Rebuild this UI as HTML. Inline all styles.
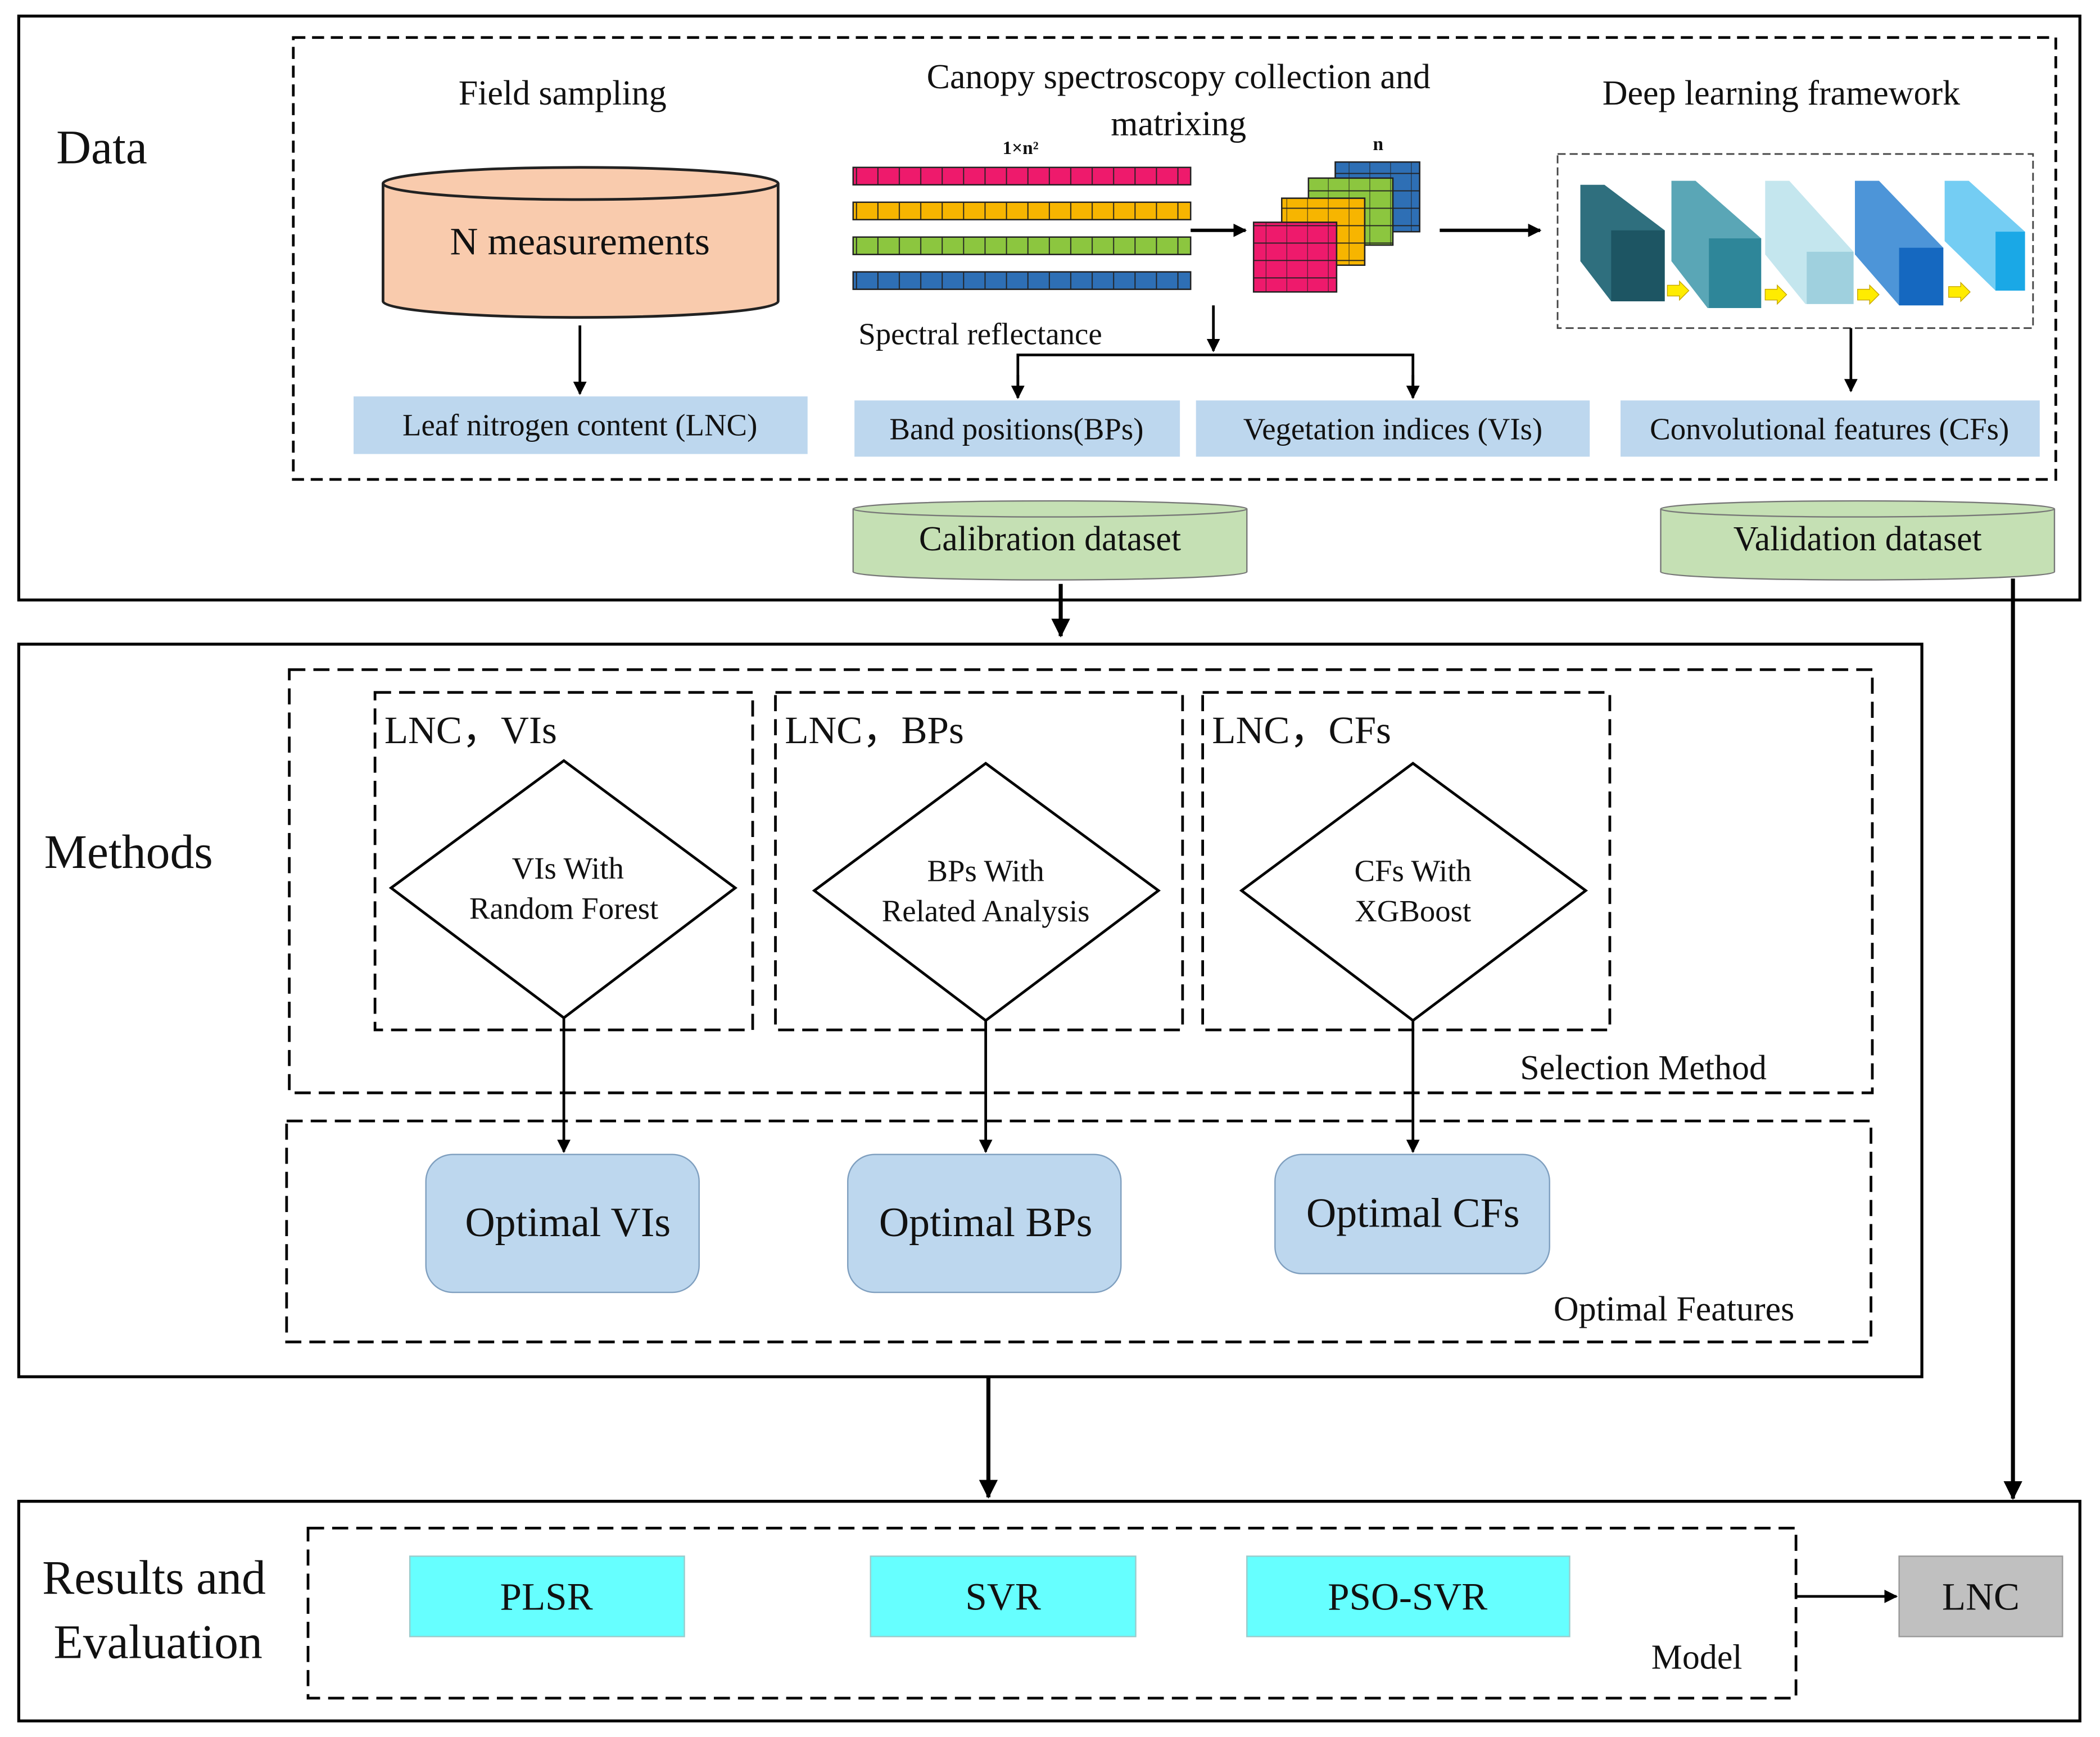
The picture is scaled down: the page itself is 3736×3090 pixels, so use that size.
<!DOCTYPE html>
<html><head><meta charset="utf-8"><style>html,body{margin:0;padding:0;background:#fff}svg{display:block}text{font-family:"Liberation Serif",serif;fill:#111}</style></head>
<body>
<svg width="3736" height="3090" viewBox="0 0 1568 1297" preserveAspectRatio="none" xmlns="http://www.w3.org/2000/svg">
<defs>
<marker id="ah" markerWidth="10" markerHeight="10" refX="9" refY="5" orient="auto" markerUnits="userSpaceOnUse"><path d="M0,0 L10,5 L0,10 z" fill="#000"/></marker>
<marker id="ahb" markerWidth="14" markerHeight="14" refX="13" refY="7" orient="auto" markerUnits="userSpaceOnUse"><path d="M0,0 L14,7 L0,14 z" fill="#000"/></marker>
<pattern id="cells" width="16" height="20" patternUnits="userSpaceOnUse"><line x1="15.5" y1="0" x2="15.5" y2="20" stroke="#222" stroke-width="0.8"/></pattern>
<pattern id="grid" width="15.5" height="13" patternUnits="userSpaceOnUse"><path d="M15.5,0 V13 M0,12.5 H15.5" stroke="#222" stroke-width="0.8" fill="none"/></pattern>
</defs>
<g fill="none" stroke="#000">
<rect x="14" y="12" width="1539" height="436" stroke-width="2.2"/>
<rect x="219" y="28" width="1316" height="330" stroke-width="2" stroke-dasharray="9,5"/>
<rect x="14" y="481" width="1421" height="547" stroke-width="2.2"/>
<rect x="216" y="500" width="1182" height="316" stroke-width="2" stroke-dasharray="12,6"/>
<rect x="280" y="517" width="282" height="252" stroke-width="2" stroke-dasharray="12,6"/>
<rect x="579" y="517" width="304" height="252" stroke-width="2" stroke-dasharray="12,6"/>
<rect x="898" y="517" width="304" height="252" stroke-width="2" stroke-dasharray="12,6"/>
<rect x="214" y="837" width="1183" height="165" stroke-width="2" stroke-dasharray="12,6"/>
<rect x="14" y="1121" width="1539" height="164" stroke-width="2.2"/>
<rect x="230" y="1141" width="1111" height="127" stroke-width="2" stroke-dasharray="12,6"/>
<rect x="1163" y="115" width="355" height="130" stroke-width="1.2" stroke-dasharray="6,3" stroke="#444"/>
</g>
<text x="42" y="122" font-size="36">Data</text>
<text x="420" y="78" font-size="26" text-anchor="middle">Field sampling</text>
<text x="880" y="66" font-size="26" text-anchor="middle">Canopy spectroscopy collection and</text>
<text x="880" y="101" font-size="26" text-anchor="middle">matrixing</text>
<text x="1330" y="78" font-size="26" text-anchor="middle">Deep learning framework</text>
<!-- cylinder -->
<path d="M286,137 V225 A147.5,12 0 0 0 581,225 V137" fill="#f9cbad" stroke="#222" stroke-width="2"/>
<ellipse cx="433.5" cy="137" rx="147.5" ry="12" fill="#f9cbad" stroke="#222" stroke-width="2"/>
<text x="433" y="190" font-size="29" text-anchor="middle">N measurements</text>
<line x1="433" y1="243" x2="433" y2="294" stroke="#000" stroke-width="2" marker-end="url(#ah)"/>
<rect x="264" y="296" width="339" height="43" fill="#bdd7ee"/>
<text x="433" y="325" font-size="23" text-anchor="middle">Leaf nitrogen content (LNC)</text>
<!-- bars -->
<text x="762" y="115" font-size="14" font-weight="bold" text-anchor="middle">1×n²</text>
<g stroke="#222" stroke-width="1">
<rect x="637" y="125" width="252" height="13" fill="#ee1a6c"/><rect x="637" y="125" width="252" height="13" fill="url(#cells)"/>
<rect x="637" y="151" width="252" height="13" fill="#f7b500"/><rect x="637" y="151" width="252" height="13" fill="url(#cells)"/>
<rect x="637" y="177" width="252" height="13" fill="#8cc63f"/><rect x="637" y="177" width="252" height="13" fill="url(#cells)"/>
<rect x="637" y="203" width="252" height="13" fill="#2e6fb5"/><rect x="637" y="203" width="252" height="13" fill="url(#cells)"/>
</g>
<line x1="889" y1="172" x2="930" y2="172" stroke="#000" stroke-width="2.5" marker-end="url(#ah)"/>
<text x="1029" y="112" font-size="14" font-weight="bold" text-anchor="middle">n</text>
<g stroke="#222" stroke-width="1">
<rect x="997" y="121" width="63" height="52" fill="#2e6fb5"/><rect x="997" y="121" width="63" height="52" fill="url(#grid)"/>
<rect x="977" y="133" width="63" height="50" fill="#8cc63f"/><rect x="977" y="133" width="63" height="50" fill="url(#grid)"/>
<rect x="957" y="148" width="62" height="50" fill="#f7b500"/><rect x="957" y="148" width="62" height="50" fill="url(#grid)"/>
<rect x="936" y="166" width="62" height="52" fill="#ee1a6c"/><rect x="936" y="166" width="62" height="52" fill="url(#grid)"/>
</g>
<line x1="1075" y1="172" x2="1150" y2="172" stroke="#000" stroke-width="2.5" marker-end="url(#ah)"/>
<!-- CNN blocks -->
<polygon points="1180,138 1198,138 1243,172 1243,225 1203,225 1180,195" fill="#2f6f7e"/>
<rect x="1203" y="172" width="40" height="53" fill="#1d5563"/>
<polygon points="1248,135 1266,135 1315,178 1315,230 1275,230 1248,195" fill="#5aa6b6"/>
<rect x="1276" y="178" width="39" height="52" fill="#2e8699"/>
<polygon points="1318,135 1336,135 1384,188 1384,227 1348,227 1318,190" fill="#c4e6ee"/>
<rect x="1349" y="188" width="35" height="39" fill="#9fd0de"/>
<polygon points="1385,135 1403,135 1451,185 1451,228 1418,228 1385,190" fill="#4d95d8"/>
<rect x="1418" y="185" width="33" height="43" fill="#1568c0"/>
<polygon points="1452,135 1470,135 1512,173 1512,217 1490,217 1452,180" fill="#74cdf3"/>
<rect x="1490" y="173" width="22" height="44" fill="#1aa8e6"/>
<g fill="#ffec00" stroke="#c8a800" stroke-width="0.6">
<path d="M1245,213 h9 v-3 l7,7 l-7,7 v-3 h-9z"/><path d="M1318,216 h9 v-3 l7,7 l-7,7 v-3 h-9z"/><path d="M1387,216 h9 v-3 l7,7 l-7,7 v-3 h-9z"/><path d="M1455,214 h9 v-3 l7,7 l-7,7 v-3 h-9z"/>
</g>
<line x1="1382" y1="245" x2="1382" y2="292" stroke="#000" stroke-width="2" marker-end="url(#ah)"/>
<text x="641" y="257" font-size="23">Spectral reflectance</text>
<line x1="906" y1="228" x2="906" y2="262" stroke="#000" stroke-width="2" marker-end="url(#ah)"/>
<polyline points="760,297 760,265 1055,265 1055,297" fill="none" stroke="#000" stroke-width="2"/>
<line x1="760" y1="280" x2="760" y2="297" stroke="#000" stroke-width="2" marker-end="url(#ah)"/>
<line x1="1055" y1="280" x2="1055" y2="297" stroke="#000" stroke-width="2" marker-end="url(#ah)"/>
<rect x="638" y="299" width="243" height="42" fill="#bdd7ee"/>
<text x="759" y="328" font-size="23" text-anchor="middle">Band positions(BPs)</text>
<rect x="893" y="299" width="294" height="42" fill="#bdd7ee"/>
<text x="1040" y="328" font-size="23" text-anchor="middle">Vegetation indices (VIs)</text>
<rect x="1210" y="299" width="313" height="42" fill="#bdd7ee"/>
<text x="1366" y="328" font-size="23" text-anchor="middle">Convolutional features (CFs)</text>
<!-- datasets -->
<path d="M637,380 V427 A147,6 0 0 0 931,427 V380" fill="#c5e0b4" stroke="#777" stroke-width="1"/>
<ellipse cx="784" cy="380" rx="147" ry="6" fill="#c5e0b4" stroke="#777" stroke-width="1"/>
<text x="784" y="411" font-size="26" text-anchor="middle">Calibration dataset</text>
<path d="M1240,380 V427 A147,6 0 0 0 1534,427 V380" fill="#c5e0b4" stroke="#777" stroke-width="1"/>
<ellipse cx="1387" cy="380" rx="147" ry="6" fill="#c5e0b4" stroke="#777" stroke-width="1"/>
<text x="1387" y="411" font-size="26" text-anchor="middle">Validation dataset</text>
<line x1="792" y1="436" x2="792" y2="475" stroke="#000" stroke-width="3" marker-end="url(#ahb)"/>
<line x1="1503" y1="432" x2="1503" y2="1119" stroke="#000" stroke-width="3" marker-end="url(#ahb)"/>
<!-- methods -->
<text x="33" y="648" font-size="36">Methods</text>
<text x="287" y="555" font-size="29">LNC，VIs</text>
<text x="586" y="555" font-size="29">LNC，BPs</text>
<text x="905" y="555" font-size="29">LNC，CFs</text>
<g fill="#fff" stroke="#000" stroke-width="2">
<polygon points="421,568 549,663 421,760 292,663"/>
<polygon points="736,570 865,665 736,762 608,665"/>
<polygon points="1055,570 1184,665 1055,762 927,665"/>
</g>
<text x="424" y="656" font-size="23" text-anchor="middle">VIs With</text>
<text x="421" y="686" font-size="23" text-anchor="middle">Random Forest</text>
<text x="736" y="658" font-size="23" text-anchor="middle">BPs With</text>
<text x="736" y="688" font-size="23" text-anchor="middle">Related Analysis</text>
<text x="1055" y="658" font-size="23" text-anchor="middle">CFs With</text>
<text x="1055" y="688" font-size="23" text-anchor="middle">XGBoost</text>
<text x="1135" y="806" font-size="26">Selection Method</text>
<line x1="421" y1="760" x2="421" y2="860" stroke="#000" stroke-width="2" marker-end="url(#ah)"/>
<line x1="736" y1="762" x2="736" y2="860" stroke="#000" stroke-width="2" marker-end="url(#ah)"/>
<line x1="1055" y1="762" x2="1055" y2="860" stroke="#000" stroke-width="2" marker-end="url(#ah)"/>
<g fill="#bdd7ee" stroke="#7f9fbf" stroke-width="1">
<rect x="318" y="862" width="204" height="103" rx="20"/>
<rect x="633" y="862" width="204" height="103" rx="20"/>
<rect x="952" y="862" width="205" height="89" rx="20"/>
</g>
<text x="424" y="923" font-size="31" text-anchor="middle">Optimal VIs</text>
<text x="736" y="923" font-size="31" text-anchor="middle">Optimal BPs</text>
<text x="1055" y="916" font-size="31" text-anchor="middle">Optimal CFs</text>
<text x="1160" y="986" font-size="26">Optimal Features</text>
<line x1="738" y1="1028" x2="738" y2="1118" stroke="#000" stroke-width="3" marker-end="url(#ahb)"/>
<!-- results -->
<text x="115" y="1190" font-size="36" text-anchor="middle">Results and</text>
<text x="118" y="1238" font-size="36" text-anchor="middle">Evaluation</text>
<g fill="#66ffff" stroke="#9cc" stroke-width="1">
<rect x="306" y="1162" width="205" height="60"/>
<rect x="650" y="1162" width="198" height="60"/>
<rect x="931" y="1162" width="241" height="60"/>
</g>
<text x="408" y="1202" font-size="29" text-anchor="middle">PLSR</text>
<text x="749" y="1202" font-size="29" text-anchor="middle">SVR</text>
<text x="1051" y="1202" font-size="29" text-anchor="middle">PSO-SVR</text>
<text x="1233" y="1246" font-size="26">Model</text>
<line x1="1341" y1="1192" x2="1416" y2="1192" stroke="#000" stroke-width="2" marker-end="url(#ah)"/>
<rect x="1418" y="1162" width="122" height="60" fill="#c0c0c0" stroke="#999" stroke-width="1"/>
<text x="1479" y="1202" font-size="29" text-anchor="middle">LNC</text>
</svg>
</body></html>
